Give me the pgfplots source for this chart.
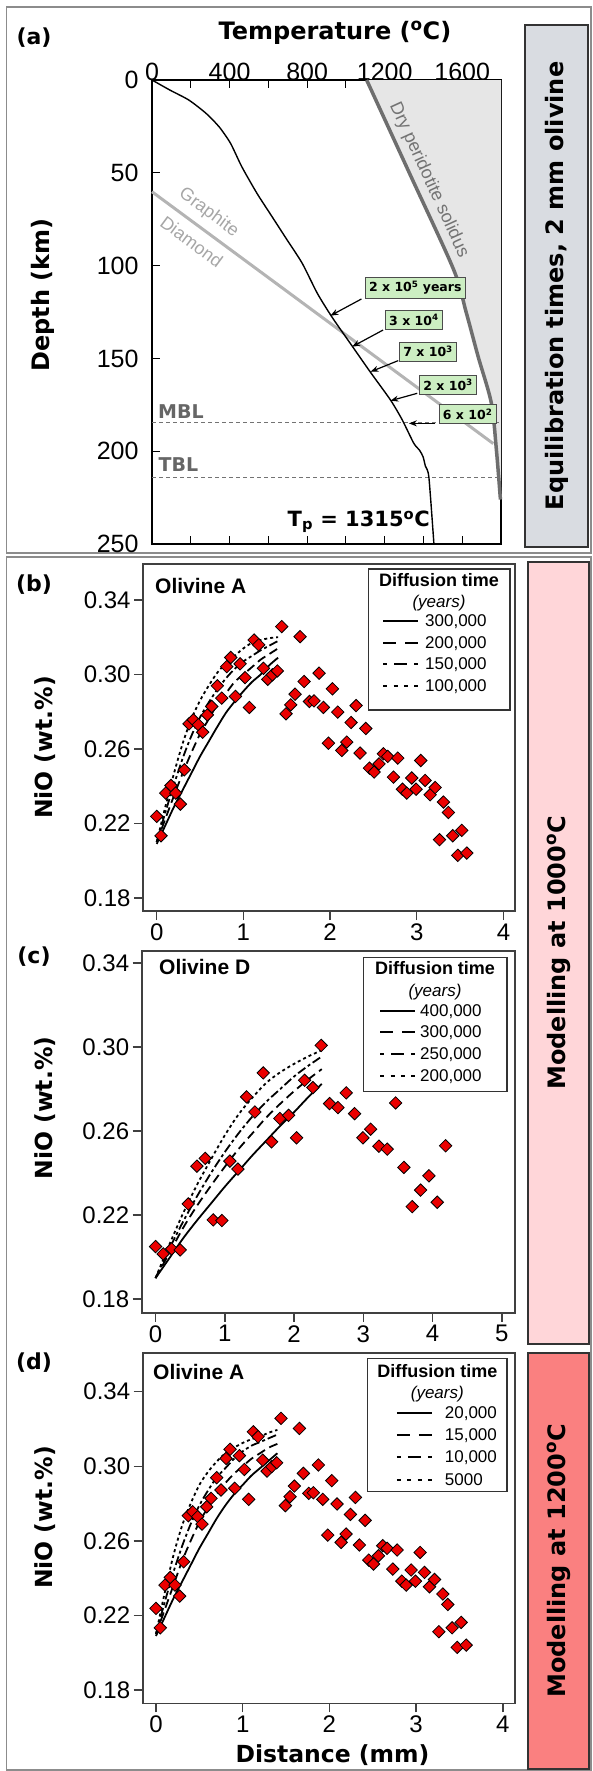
\documentclass[border=0pt]{standalone}
\usepackage{fontspec}
\setmainfont{Liberation Sans}
\newfontfamily\dvs{DejaVu Sans}
\usepackage{pgfplots}
\usepackage{pgfplotstable}
\pgfplotsset{compat=1.18}
\usetikzlibrary{arrows.meta}

\definecolor{boxgray}{RGB}{217,220,225}
\definecolor{boxpink}{RGB}{255,214,217}
\definecolor{boxred}{RGB}{250,128,128}
\definecolor{solfill}{RGB}{230,230,230}
\definecolor{solline}{RGB}{110,110,110}
\definecolor{gdline}{RGB}{180,180,180}
\definecolor{lgreen}{RGB}{204,238,194}
\definecolor{dred}{RGB}{235,0,0}
\definecolor{framegray}{RGB}{140,140,140}

\newcommand{\rl}[1]{\rule[4.5pt]{#1}{2pt}}
\newcommand{\Ssolid}{\hbox to 35pt{\rl{35pt}}}
\newcommand{\Sdash}{\hbox to 35pt{\rl{13pt}\hfil\rl{13pt}}}
\newcommand{\Sdashdot}{\hbox to 35pt{\rl{4pt}\hfil\rl{13pt}\hfil\rl{4pt}}}
\newcommand{\Sdot}{\hbox to 35pt{\rl{4pt}\hfil\rl{4pt}\hfil\rl{4pt}\hfil\rl{4pt}}}
\newcommand{\fs}[1]{\fontsize{#1}{#1}\selectfont}

\pgfplotstableread{
x y
0.000 0.2238
0.050 0.2134
0.104 0.2363
0.165 0.2404
0.219 0.2363
0.273 0.2304
0.319 0.2488
0.373 0.2735
0.423 0.2756
0.481 0.2730
0.531 0.2690
0.585 0.2783
0.635 0.2828
0.700 0.2939
0.750 0.2873
0.808 0.3042
0.854 0.3091
0.908 0.2882
0.962 0.3057
1.019 0.2983
1.069 0.2823
1.123 0.3185
1.177 0.3159
1.231 0.3033
1.281 0.2974
1.335 0.2998
1.392 0.3019
1.442 0.3257
1.492 0.2789
1.546 0.2837
1.596 0.2894
1.654 0.3203
1.700 0.2962
1.762 0.2855
1.815 0.2858
1.873 0.3007
1.923 0.2823
1.981 0.2631
2.027 0.2923
2.088 0.2798
2.135 0.2592
2.192 0.2637
2.242 0.2742
2.300 0.2833
2.346 0.2578
2.412 0.2710
2.454 0.2497
2.508 0.2476
2.565 0.2520
2.615 0.2574
2.665 0.2560
2.731 0.2449
2.781 0.2551
2.835 0.2384
2.885 0.2363
2.942 0.2444
2.992 0.2384
3.046 0.2538
3.096 0.2431
3.154 0.2354
3.212 0.2393
3.262 0.2113
3.308 0.2315
3.365 0.2259
3.415 0.2134
3.473 0.2029
3.519 0.2163
3.577 0.2041
}\olA

\pgfplotstableread{
x y
0.000 0.2050
0.110 0.2015
0.231 0.2039
0.356 0.2034
0.472 0.2253
0.597 0.2433
0.717 0.2470
0.833 0.2177
0.958 0.2174
1.073 0.2457
1.189 0.2419
1.314 0.2763
1.434 0.2691
1.555 0.2877
1.675 0.2549
1.795 0.2660
1.921 0.2675
2.036 0.2568
2.152 0.2842
2.272 0.2807
2.392 0.3008
2.513 0.2731
2.633 0.2712
2.753 0.2782
2.874 0.2683
2.994 0.2568
3.105 0.2609
3.225 0.2528
3.345 0.2514
3.466 0.2734
3.586 0.2427
3.706 0.2240
3.827 0.2319
3.947 0.2387
4.067 0.2261
4.188 0.2530
}\olD

\pgfplotsset{
  nio/.style={
    scale only axis, anchor=south west,
    axis line style={draw=black!75, line width=1.6pt},
    tick style={draw=black!75, line width=1.4pt},
    tick align=outside, major tick length=9pt,
    xtick pos=bottom, ytick pos=left,
    ytick={0.18,0.22,0.26,0.30,0.34},
    /pgf/number format/assume math mode=true,
    ticklabel style={font=\fs{24}},
    yticklabel style={/pgf/number format/fixed, /pgf/number format/fixed zerofill, /pgf/number format/precision=2},
  },
  dmark/.style={only marks, mark=square*, mark size=4.4pt,
    mark options={rotate=45, fill=dred, draw=black, line width=0.8pt}},
  csolid/.style={black, line width=1.8pt, smooth},
  cdash/.style={black, line width=1.8pt, smooth, dash pattern=on 9pt off 5pt},
  cdashdot/.style={black, line width=1.8pt, smooth, dash pattern=on 9pt off 3pt on 3pt off 3pt},
  cdot/.style={black, line width=1.8pt, smooth, dash pattern=on 3pt off 3pt},
}

\begin{document}
\begin{tikzpicture}
\useasboundingbox (0,0) rectangle (592pt,-1771pt);

% frames and side boxes
\draw[framegray, line width=1.5pt] (6.5pt,-7pt) rectangle (591pt,-553pt);
\draw[framegray, line width=1.5pt] (6.5pt,-557pt) rectangle (591pt,-1770pt);
\draw[fill=boxgray, draw=black!80, line width=1.8pt] (525pt,-25pt) rectangle (588pt,-547pt);
\node[rotate=90, font=\dvs\bfseries\fs{24}] at (556.5pt,-286pt) {Equilibration times, 2 mm olivine};
\draw[fill=boxpink, draw=black!80, line width=1.8pt] (528pt,-562pt) rectangle (589pt,-1344pt);
\node[rotate=90, font=\dvs\bfseries\fs{24}] at (558.5pt,-953pt) {Modelling at 1000\textsuperscript{o}C};
\draw[fill=boxred, draw=black!80, line width=1.8pt] (528pt,-1353pt) rectangle (589pt,-1769pt);
\node[rotate=90, font=\dvs\bfseries\fs{24}] at (558.5pt,-1561pt) {Modelling at 1200\textsuperscript{o}C};

% ---------- panel (a) ----------
\begin{axis}[
  scale only axis, anchor=south west, at={(152pt,-544pt)},
  width=349pt, height=464pt,
  xmin=0, xmax=1800, ymin=0, ymax=250, y dir=reverse,
  xtick={0,400,800,1200,1600}, minor xtick={200,600,1000,1400},
  ytick={0,50,100,150,200,250},
  xticklabel pos=upper, ytick pos=left,
  tick align=inside, major tick length=8pt, minor tick length=8pt,
  axis line style={line width=2.5pt},
  tick style={black, line width=1.2pt},
  /pgf/number format/assume math mode=true,
  /pgf/number format/1000 sep={},
  ticklabel style={font=\fs{25}},
  yticklabel style={xshift=-10pt},
  xticklabel style={yshift=-4pt},
  clip=false,
]
\addplot[fill=solfill, draw=none] coordinates {(1107,0) (1327,50) (1555,102) (1620,125) (1682,149) (1750,174) (1776,199) (1797,226) (1800,226) (1800,0)} -- cycle;
\addplot[gdline, line width=3pt] coordinates {(0,60.2) (1760,195.9)};
\addplot[solline, line width=3.5pt, smooth] coordinates {(1107,0) (1327,50) (1555,102) (1620,125) (1682,149) (1750,174) (1776,199) (1797,226)};
\addplot[black!55, line width=0.8pt, dash pattern=on 4pt off 3pt] coordinates {(0,184.6) (1800,184.6)};
\addplot[black!55, line width=0.8pt, dash pattern=on 4pt off 3pt] coordinates {(0,214) (1800,214)};
\addplot[black, line width=1.4pt, smooth, tension=0.4] coordinates {(0,0) (92,5.4) (190,10.8) (278,17.9) (346,25.2) (405,34.1) (463,46.7) (541,61) (619,73.6) (697,86.2) (775,98.8) (853,115) (930,128) (1030,143) (1127,157.5) (1230,172.4) (1290,183) (1350,195.7) (1380,199.5) (1398,203) (1410,208) (1428,214) (1454,250)};

\node[rotate=-36.5, text=black!35, font=\fs{18}, inner sep=0pt] at (axis cs:292,71.5) {Graphite};
\node[rotate=-36.5, text=black!35, font=\fs{18}, inner sep=0pt] at (axis cs:205,87) {Diamond};
\node[rotate=-65.4, text=black!55, font=\fs{18}, inner sep=0pt] at (axis cs:1428,53.9) {Dry peridotite solidus};
\node[text=black!60, font=\dvs\bfseries\fs{19}] at (axis cs:149,178.7) {MBL};
\node[text=black!60, font=\dvs\bfseries\fs{19}] at (axis cs:136,207.4) {TBL};
\node[font=\dvs\bfseries\fs{21}] at (axis cs:1066,238) {T\textsubscript{p} = 1315\textsuperscript{o}C};

\draw[-{Stealth[length=8pt,width=6pt]}, line width=1.2pt] (axis cs:1080,118) -- (axis cs:920,127);
\draw[-{Stealth[length=8pt,width=6pt]}, line width=1.2pt] (axis cs:1192,134.7) -- (axis cs:1032,143.7);
\draw[-{Stealth[length=8pt,width=6pt]}, line width=1.2pt] (axis cs:1270,151.2) -- (axis cs:1127,157.2);
\draw[-{Stealth[length=8pt,width=6pt]}, line width=1.2pt] (axis cs:1368,168.8) -- (axis cs:1230,172.8);
\draw[-{Stealth[length=8pt,width=6pt]}, line width=1.2pt] (axis cs:1462,185) -- (axis cs:1325,185);

\tikzset{gbox/.style={fill=lgreen, draw=black!70, line width=0.8pt, inner xsep=4pt, minimum height=19pt, font=\dvs\bfseries\fs{12.5}}}
\node[gbox] at (axis cs:1358,112) {2 x 10\textsuperscript{5} years};
\node[gbox] at (axis cs:1351,129.3) {3 x 10\textsuperscript{4}};
\node[gbox] at (axis cs:1424,146.3) {7 x 10\textsuperscript{3}};
\node[gbox] at (axis cs:1527,164.2) {2 x 10\textsuperscript{3}};
\node[gbox] at (axis cs:1628,180) {6 x 10\textsuperscript{2}};
\end{axis}
\node[font=\dvs\bfseries\fs{24}] at (335pt,-33pt) {Temperature (\textsuperscript{o}C)};
\node[rotate=90, font=\dvs\bfseries\fs{24}] at (43pt,-295pt) {Depth (km)};
\node[font=\dvs\bfseries\fs{22}] at (34pt,-38pt) {(a)};

% ---------- panel (b) ----------
\begin{axis}[nio, at={(143pt,-911pt)}, width=372pt, height=347pt,
  xmin=-0.158, xmax=4.133, ymin=0.173, ymax=0.3593, xtick={0,1,2,3,4}]
\addplot[csolid] coordinates {(0,0.209) (0.1,0.219) (0.2,0.229) (0.3,0.238) (0.4,0.247) (0.5,0.256) (0.6,0.264) (0.7,0.272) (0.8,0.2795) (0.9,0.2855) (1.0,0.291) (1.1,0.296) (1.2,0.300) (1.3,0.305) (1.4,0.309)};
\addplot[cdash] coordinates {(0,0.210) (0.1,0.2225) (0.2,0.235) (0.3,0.247) (0.4,0.258) (0.5,0.268) (0.6,0.276) (0.7,0.284) (0.8,0.290) (0.9,0.296) (1.0,0.300) (1.1,0.304) (1.2,0.308) (1.3,0.311) (1.4,0.314)};
\addplot[cdashdot] coordinates {(0,0.210) (0.1,0.226) (0.2,0.241) (0.3,0.255) (0.4,0.267) (0.5,0.277) (0.6,0.285) (0.7,0.292) (0.8,0.298) (0.9,0.303) (1.0,0.307) (1.1,0.310) (1.2,0.313) (1.3,0.3155) (1.4,0.318)};
\addplot[cdot] coordinates {(0,0.210) (0.1,0.229) (0.2,0.247) (0.3,0.263) (0.4,0.276) (0.5,0.286) (0.6,0.294) (0.7,0.301) (0.8,0.306) (0.9,0.310) (1.0,0.314) (1.1,0.317) (1.2,0.3185) (1.3,0.3195) (1.4,0.320)};
\addplot[dmark] table {\olA};
\end{axis}
\draw[black!80, line width=1.4pt, fill=white] (368.3pt,-569pt) rectangle (510pt,-710pt);
\node[font=\bfseries\fs{18}] at (439pt,-580pt) {Diffusion time};
\node[font=\itshape\fs{17}] at (439pt,-603pt) {(years)};
\node[anchor=west, inner sep=0pt, font=\fs{17}] at (383pt,-621.7pt) {\Ssolid\hspace{7pt}300,000};
\node[anchor=west, inner sep=0pt, font=\fs{17}] at (383pt,-643.3pt) {\Sdash\hspace{7pt}200,000};
\node[anchor=west, inner sep=0pt, font=\fs{17}] at (383pt,-665pt) {\Sdashdot\hspace{7pt}150,000};
\node[anchor=west, inner sep=0pt, font=\fs{17}] at (383pt,-686.7pt) {\Sdot\hspace{7pt}100,000};
\node[anchor=west, font=\bfseries\fs{21}, inner sep=0pt] at (155pt,-586pt) {Olivine A};
\node[font=\dvs\bfseries\fs{22}] at (34pt,-585pt) {(b)};
\node[rotate=90, font=\dvs\bfseries\fs{23.5}] at (45pt,-747.5pt) {NiO (wt.\%)};

% ---------- panel (c) ----------
\begin{axis}[nio, at={(141.7pt,-1312.7pt)}, width=373.3pt, height=362pt,
  xmin=-0.2, xmax=5.19, ymin=0.1735, ymax=0.3459, xtick={0,1,2,3,4,5}]
\addplot[csolid] coordinates {(0,0.190) (0.2,0.1995) (0.4,0.209) (0.6,0.2175) (0.8,0.2255) (1.0,0.2335) (1.2,0.2410) (1.4,0.2485) (1.6,0.2555) (1.8,0.2625) (2.0,0.269) (2.2,0.276) (2.4,0.2825)};
\addplot[cdash] coordinates {(0,0.190) (0.2,0.202) (0.4,0.214) (0.6,0.2245) (0.8,0.234) (1.0,0.243) (1.2,0.2515) (1.4,0.259) (1.6,0.2665) (1.8,0.273) (2.0,0.279) (2.2,0.2845) (2.4,0.2895)};
\addplot[cdashdot] coordinates {(0,0.190) (0.2,0.204) (0.4,0.217) (0.6,0.229) (0.8,0.240) (1.0,0.250) (1.2,0.259) (1.4,0.267) (1.6,0.274) (1.8,0.280) (2.0,0.286) (2.2,0.291) (2.4,0.2955)};
\addplot[cdot] coordinates {(0,0.190) (0.2,0.206) (0.4,0.221) (0.6,0.2345) (0.8,0.2465) (1.0,0.258) (1.2,0.268) (1.4,0.276) (1.6,0.283) (1.8,0.288) (2.0,0.292) (2.2,0.2955) (2.4,0.2985)};
\addplot[dmark] table {\olD};
\end{axis}
\draw[black!80, line width=1.4pt, fill=white] (363.3pt,-957.3pt) rectangle (507pt,-1091.7pt);
\node[font=\bfseries\fs{18}] at (435pt,-968.3pt) {Diffusion time};
\node[font=\itshape\fs{17}] at (435pt,-991.7pt) {(years)};
\node[anchor=west, inner sep=0pt, font=\fs{17}] at (380pt,-1011.7pt) {\Ssolid\hspace{5pt}400,000};
\node[anchor=west, inner sep=0pt, font=\fs{17}] at (380pt,-1033pt) {\Sdash\hspace{5pt}300,000};
\node[anchor=west, inner sep=0pt, font=\fs{17}] at (380pt,-1055pt) {\Sdashdot\hspace{5pt}250,000};
\node[anchor=west, inner sep=0pt, font=\fs{17}] at (380pt,-1076.7pt) {\Sdot\hspace{5pt}200,000};
\node[anchor=west, font=\bfseries\fs{21}, inner sep=0pt] at (159pt,-967pt) {Olivine D};
\node[font=\dvs\bfseries\fs{22}] at (34pt,-957pt) {(c)};
\node[rotate=90, font=\dvs\bfseries\fs{23.5}] at (45pt,-1108pt) {NiO (wt.\%)};

% ---------- panel (d) ----------
\begin{axis}[nio, at={(142.7pt,-1703.3pt)}, width=372.3pt, height=350.6pt,
  xmin=-0.153, xmax=4.14, ymin=0.1729, ymax=0.3609, xtick={0,1,2,3,4}]
\addplot[csolid] coordinates {(0,0.209) (0.1,0.219) (0.2,0.229) (0.3,0.238) (0.4,0.247) (0.5,0.256) (0.6,0.264) (0.7,0.272) (0.8,0.279) (0.9,0.285) (1.0,0.290) (1.1,0.295) (1.2,0.299) (1.3,0.303) (1.4,0.307)};
\addplot[cdash] coordinates {(0,0.210) (0.1,0.223) (0.2,0.236) (0.3,0.249) (0.4,0.260) (0.5,0.270) (0.6,0.278) (0.7,0.285) (0.8,0.291) (0.9,0.296) (1.0,0.300) (1.1,0.304) (1.2,0.307) (1.3,0.310) (1.4,0.312)};
\addplot[cdashdot] coordinates {(0,0.210) (0.1,0.227) (0.2,0.243) (0.3,0.257) (0.4,0.269) (0.5,0.279) (0.6,0.287) (0.7,0.294) (0.8,0.299) (0.9,0.304) (1.0,0.308) (1.1,0.311) (1.2,0.313) (1.3,0.315) (1.4,0.317)};
\addplot[cdot] coordinates {(0,0.210) (0.1,0.232) (0.2,0.252) (0.3,0.268) (0.4,0.280) (0.5,0.290) (0.6,0.297) (0.7,0.3025) (0.8,0.307) (0.9,0.310) (1.0,0.3125) (1.1,0.3145) (1.2,0.316) (1.3,0.318) (1.4,0.3195)};
\addplot[dmark] table {\olA};
\end{axis}
\draw[black!80, line width=1.4pt, fill=white] (367.7pt,-1358.3pt) rectangle (507pt,-1491.7pt);
\node[font=\bfseries\fs{18}] at (437.3pt,-1370.7pt) {Diffusion time};
\node[font=\itshape\fs{17}] at (437.3pt,-1394pt) {(years)};
\node[anchor=west, inner sep=0pt, font=\fs{17}] at (396.7pt,-1414pt) {\Ssolid\hspace{13pt}20,000};
\node[anchor=west, inner sep=0pt, font=\fs{17}] at (396.7pt,-1435.7pt) {\Sdash\hspace{13pt}15,000};
\node[anchor=west, inner sep=0pt, font=\fs{17}] at (396.7pt,-1457.3pt) {\Sdashdot\hspace{13pt}10,000};
\node[anchor=west, inner sep=0pt, font=\fs{17}] at (396.7pt,-1479.3pt) {\Sdot\hspace{13pt}5000};
\node[anchor=west, font=\bfseries\fs{21}, inner sep=0pt] at (153pt,-1371.7pt) {Olivine A};
\node[font=\dvs\bfseries\fs{22}] at (34pt,-1363pt) {(d)};
\node[rotate=90, font=\dvs\bfseries\fs{23.5}] at (45pt,-1517.5pt) {NiO (wt.\%)};
\node[font=\dvs\bfseries\fs{23.5}] at (332.5pt,-1755pt) {Distance (mm)};
\end{tikzpicture}
\end{document}
